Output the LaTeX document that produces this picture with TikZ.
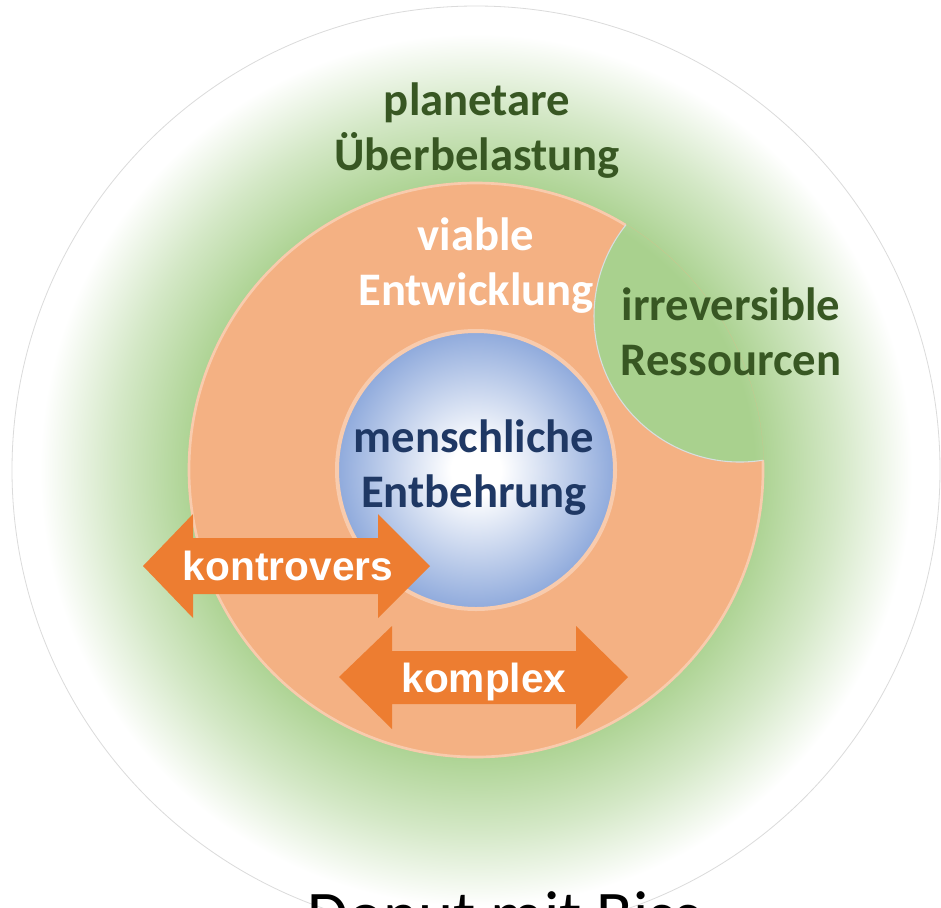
\documentclass[tikz,border=0pt]{standalone}
\usepackage{fontspec}
\setmainfont{Carlito}
\newfontfamily\pfeilfont{Liberation Sans}
\usepackage{tikz}

\definecolor{hgruen}{RGB}{169,209,142}
\colorlet{hgruenhalb}{hgruen!50!white}
\definecolor{dgruen}{RGB}{56,87,35}
\definecolor{donut}{RGB}{244,177,131}
\definecolor{rand}{RGB}{248,203,173}
\definecolor{pfeil}{RGB}{237,125,49}
\definecolor{navy}{RGB}{31,56,100}
\definecolor{kugelblau}{RGB}{143,170,220}

\pgfdeclareradialshading{gruenhof}{\pgfpoint{0bp}{0bp}}{color(0bp)=(hgruen); color(15bp)=(hgruen); color(19.5bp)=(hgruenhalb); color(23.5bp)=(white); color(50bp)=(white)}
\pgfdeclareradialshading{kugel}{\pgfpoint{0bp}{0bp}}{color(0bp)=(white); color(4.5bp)=(white); color(25bp)=(kugelblau); color(50bp)=(kugelblau)}

\begin{document}
\begin{tikzpicture}[x=0.75pt,y=0.75pt,yscale=-1,xscale=1,
  lbl/.style={inner sep=0.75pt, align=center, font=\fontsize{35}{41.25}\selectfont\bfseries},
  pfeiltext/.style={inner sep=0.75pt, text=white, font=\pfeilfont\fontsize{30.5}{36}\selectfont\bfseries},
  pfeilform/.style={fill=pfeil, draw=none}]
\useasboundingbox (0,0) rectangle (941,907);
\fill[white] (0,0) rectangle (941,907);

%Shape: Circle [Hintergrund]
\shadedraw[shading=gruenhof, draw=black!14, line width=0.6pt] (476,470) circle (464);

% Text Node
\draw (504,937) node [anchor=base, inner sep=0pt, font=\fontsize{50}{60}\selectfont] (titel) {Donut mit Biss};

%Shape: Donut mit Biss
\begin{scope}
\clip (476,470) circle (288);
\fill[donut, even odd rule] (476,470) circle (288) (476,470) circle (139) (740,316) circle (146);
\end{scope}
\draw[rand, line width=2pt] (476,470) ++(-2:287) arc (-2:301.4:287);
\draw[black!12!hgruen!80!blue!30!white, line width=0.8pt] (740,316) ++(81.1:146) arc (81.1:218.7:146);

%Shape: Circle [Kugel]
\shadedraw[shading=kugel, draw=rand, line width=3pt] (476,470) circle (139);

%Shape: Double Arrow [kontrovers]
\draw[pfeilform] (143,566) -- (193,514) -- (193,538) -- (378,538) -- (378,514) -- (430,566) -- (378,618) -- (378,594) -- (193,594) -- (193,618) -- cycle;
%Shape: Double Arrow [komplex]
\draw[pfeilform] (339,677) -- (392,626) -- (392,651) -- (576,651) -- (576,626) -- (628,677) -- (576,729) -- (576,704) -- (392,704) -- (392,729) -- cycle;

% Text Node
\draw (477,170) node [lbl, text=dgruen, anchor=base] (planet) {planetare\\Überbelastung};
% Text Node
\draw (476,305) node [lbl, text=white, anchor=base] (viabel) {viable\\Entwicklung};
% Text Node
\draw (731,375) node [lbl, text=dgruen, anchor=base] (ressource) {irreversible\\Ressourcen};
% Text Node
\draw (474,507) node [lbl, text=navy, anchor=base] (mensch) {menschliche\\Entbehrung};
% Text Node
\draw (288,580) node [pfeiltext, anchor=base] (kontro) {kontrovers};
% Text Node
\draw (484,692) node [pfeiltext, anchor=base] (kompl) {komplex};

\end{tikzpicture}
\end{document}
